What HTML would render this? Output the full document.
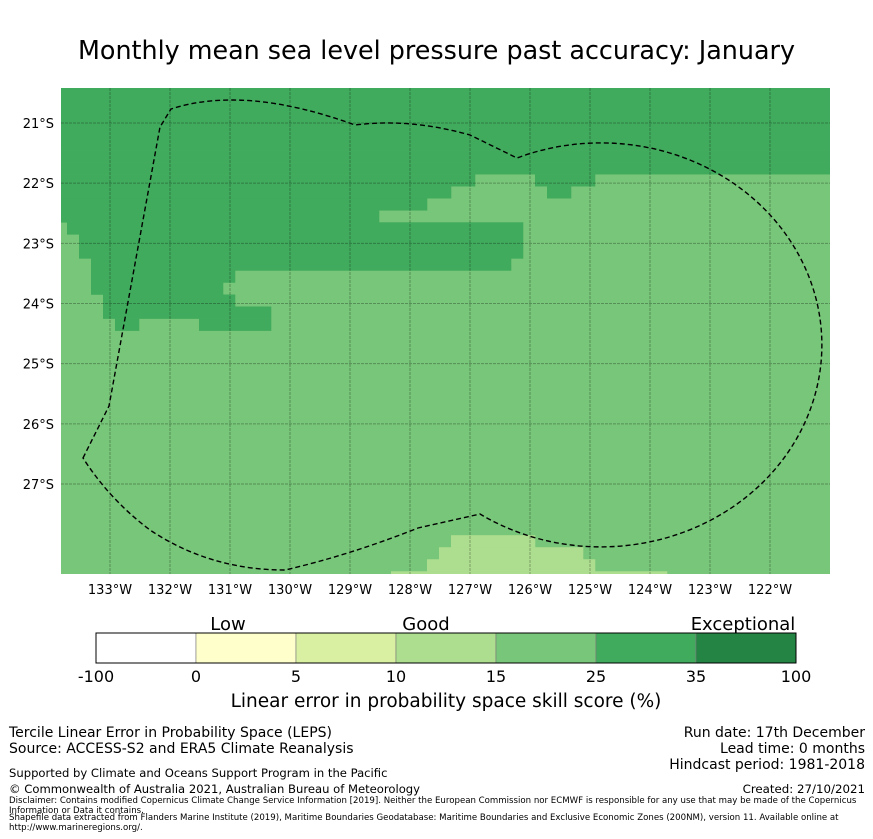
<!DOCTYPE html>
<html><head><meta charset="utf-8"><style>
body{margin:0;background:#fff;font-family:"Liberation Sans","DejaVu Sans",sans-serif;}
#wrap{position:relative;width:873px;height:839px;overflow:hidden;}
.t{position:absolute;white-space:nowrap;color:#000;}
</style></head><body>
<div id="wrap">
<div class="t" style="left:0;width:873px;text-align:center;top:35px;font-size:25.4px;font-family:'DejaVu Sans',sans-serif;">Monthly mean sea level pressure past accuracy: January</div>
<svg id="map" width="873" height="600" style="position:absolute;left:0;top:0"></svg>
<svg id="cbar" width="873" height="100" style="position:absolute;left:0;top:610px"></svg>
<div class="t" style="left:0;width:892px;text-align:center;top:691px;font-size:18.5px;font-family:'DejaVu Sans',sans-serif;">Linear error in probability space skill score (%)</div>
<div class="t" style="left:9px;top:725px;font-size:14px;line-height:16px;font-family:'DejaVu Sans',sans-serif;">Tercile Linear Error in Probability Space (LEPS)<br>Source: ACCESS-S2 and ERA5 Climate Reanalysis</div>
<div class="t" style="right:8px;top:725px;font-size:14px;line-height:16px;text-align:right;font-family:'DejaVu Sans',sans-serif;">Run date: 17th December<br>Lead time: 0 months<br>Hindcast period: 1981-2018</div>
<div class="t" style="left:9px;top:766px;font-size:11.6px;font-family:'DejaVu Sans',sans-serif;">Supported by Climate and Oceans Support Program in the Pacific</div>
<div class="t" style="left:9px;top:782px;font-size:11.6px;font-family:'DejaVu Sans',sans-serif;">© Commonwealth of Australia 2021, Australian Bureau of Meteorology</div>
<div class="t" style="right:8px;top:782px;font-size:11.8px;font-family:'DejaVu Sans',sans-serif;">Created: 27/10/2021</div>
<div class="t" style="left:9px;top:796px;font-size:8.6px;line-height:10px;white-space:normal;width:860px;font-family:'DejaVu Sans',sans-serif;">Disclaimer: Contains modified Copernicus Climate Change Service Information [2019]. Neither the European Commission nor ECMWF is responsible for any use that may be made of the Copernicus Information or Data it contains.</div>
<div class="t" style="left:9px;top:813px;font-size:8.6px;line-height:10px;white-space:normal;width:860px;font-family:'DejaVu Sans',sans-serif;">Shapefile data extracted from Flanders Marine Institute (2019), Maritime Boundaries Geodatabase: Maritime Boundaries and Exclusive Economic Zones (200NM), version 11. Available online at http://www.marineregions.org/.</div>
</div>
<script>
// ---- data ----
const levelColors = ["#ffffff","#ffffcc","#d9f0a3","#addd8e","#78c679","#41ab5d","#238443"];
const levelBounds = ["-100","0","5","10","15","25","35","100"];
const backgroundLevel = 4;
// runs: [row, startCol, endCol, level] on 0.2-degree grid
const cellRuns = [
 [0,0,64,5],[1,0,64,5],[2,0,64,5],[3,0,64,5],[4,0,64,5],[5,0,64,5],[6,0,64,5],[7,0,64,5],
 [8,0,34,5],[8,40,44,5],[9,0,32,5],[9,41,42,5],[10,0,30,5],[11,0,26,5],
 [12,1,38,5],[13,2,38,5],[14,2,38,5],[15,3,37,5],[16,3,14,5],[17,3,13,5],
 [18,4,14,5],[19,4,17,5],[20,5,6,5],[20,12,17,5],
 [38,33,39,3],[39,32,43,3],[40,31,44,3],[41,28,50,3]
];
const lonTicks = [-133,-132,-131,-130,-129,-128,-127,-126,-125,-124,-123,-122];
const latTicks = [-21,-22,-23,-24,-25,-26,-27];
// ---- scales ----
const NS="http://www.w3.org/2000/svg";
const PX=60, PY=60.17;
const xS = lon => 110 + (lon + 133)*PX;
const yS = lat => 123 - (lat + 21)*PY;
const gridLon0 = -133.9167, gridLat0 = -20.25, cell = 0.2;
const map = document.getElementById('map');
function mk(tag, attrs, parent){const e=document.createElementNS(NS,tag);for(const k in attrs)e.setAttribute(k,attrs[k]);parent.appendChild(e);return e;}
const defs = mk('defs',{},map);
const cp = mk('clipPath',{id:'clip'},defs);
mk('rect',{x:61,y:88,width:769,height:486},cp);
const g = mk('g',{'clip-path':'url(#clip)'},map);
const bg = mk('rect',{x:61,y:88,width:769,height:486,fill:levelColors[backgroundLevel]},g);


cellRuns.forEach(r=>{
  const lonA = gridLon0 + r[1]*cell, lonB = gridLon0 + (r[2]+1)*cell;
  const latA = gridLat0 - r[0]*cell, latB = gridLat0 - (r[0]+1)*cell;
  const e = mk('rect',{x:xS(lonA),y:yS(latA),width:xS(lonB)-xS(lonA)+0.3,height:yS(latB)-yS(latA)+0.3,fill:levelColors[r[3]]},g);
  
  
});
lonTicks.forEach(l=>{
  const e=mk('line',{x1:xS(l),x2:xS(l),y1:88,y2:574,stroke:'rgba(0,0,0,0.28)','stroke-width':1,'stroke-dasharray':'3,1'},g);
  
  
  const t=mk('text',{x:xS(l),y:594,'text-anchor':'middle','font-size':13,'font-family':'DejaVu Sans, sans-serif'},map);
  t.textContent=Math.abs(l)+'°W';
  
  
});
latTicks.forEach(l=>{
  const e=mk('line',{x1:61,x2:830,y1:yS(l),y2:yS(l),stroke:'rgba(0,0,0,0.28)','stroke-width':1,'stroke-dasharray':'3,1'},g);
  
  
  const t=mk('text',{x:54,y:yS(l)+5,'text-anchor':'end','font-size':13,'font-family':'DejaVu Sans, sans-serif'},map);
  t.textContent=Math.abs(l)+'°S';
  
  
});
const eez = mk('path',{d:'M83 458 L109 406 L160 127 L171 109 Q245 85 355 125 Q410 118 470 135 L517 158 A221 202 0 1 1 480 514 L418 528 Q350 555 285 570 Q210 570 150 530 Q110 500 83 458 Z',fill:'none',stroke:'#000','stroke-width':1.4,'stroke-dasharray':'5,3'},g);


// ---- colorbar ----
const cb = document.getElementById('cbar');
const cbX0=96, cbW=100, cbY=23, cbH=30;
levelColors.forEach((c,i)=>{
  const e=mk('rect',{x:cbX0+i*cbW,y:cbY,width:cbW,height:cbH,fill:c,stroke:'#777','stroke-width':0.6},cb);
  
  
});
mk('rect',{x:cbX0,y:cbY,width:cbW*7,height:cbH,fill:'none',stroke:'#000','stroke-width':1},cb);
levelBounds.forEach((b,i)=>{
  const t=mk('text',{x:cbX0+i*cbW,y:cbY+cbH+19,'text-anchor':'middle','font-size':16,'font-family':'DejaVu Sans, sans-serif'},cb);
  t.textContent=b;
  
  
});
[['Low',228],['Good',426],['Exceptional',743]].forEach(a=>{
  const t=mk('text',{x:a[1],y:cbY-3,'text-anchor':'middle','font-size':18,'font-family':'DejaVu Sans, sans-serif'},cb);
  t.textContent=a[0];
  
  
});
</script>
</body></html>
